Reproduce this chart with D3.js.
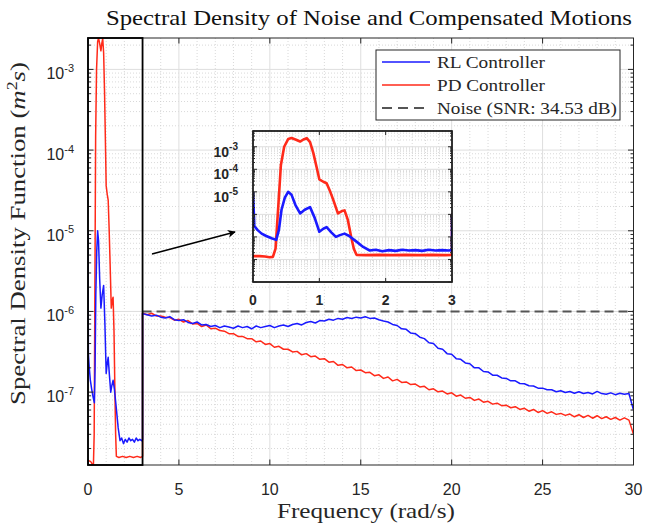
<!DOCTYPE html>
<html>
<head>
<meta charset="utf-8">
<script src="https://cdn.jsdelivr.net/npm/d3@7"></script>
<style>
body{margin:0;background:#fff;}
svg{display:block;}
</style>
</head>
<body>
<div id="chart"></div>
<script>
// ---- data ----
// low frequency part (0 - 3 rad/s), shown in the inset too
const freqLowRL = [0, 0.02, 0.07, 0.13, 0.20, 0.28, 0.35, 0.39, 0.43, 0.48, 0.53, 0.58, 0.64, 0.71, 0.78, 0.86, 0.93,
	1.00, 1.06, 1.11, 1.18, 1.25, 1.31, 1.38, 1.45, 1.56, 1.66, 1.76, 1.85, 1.95, 2.05, 2.15, 2.25, 2.35, 2.45, 2.55,
	2.65, 2.75, 2.85, 2.95, 3.00];
const rlLow = [1.0e-5, 3.0e-7, 2.0e-7, 1.4e-7, 1.1e-7, 8.7e-8, 7.4e-8, 2.0e-7, 1.6e-6, 5.5e-6, 1.0e-5, 7.5e-6, 2.6e-6,
	1.1e-6, 1.6e-6, 2.1e-6, 7.0e-7, 1.7e-7, 2.3e-7, 2.7e-7, 1.6e-7, 1.0e-7, 1.2e-7, 1.4e-7, 1.1e-7, 6.2e-8, 3.6e-8,
	2.5e-8, 2.7e-8, 2.3e-8, 2.6e-8, 2.4e-8, 2.7e-8, 2.5e-8, 2.6e-8, 2.4e-8, 2.7e-8, 2.5e-8, 2.6e-8, 2.5e-8, 2.6e-8];
const freqLowPD = [0, 0.10, 0.18, 0.25, 0.30, 0.34, 0.38, 0.42, 0.47, 0.53, 0.58, 0.64, 0.71, 0.76, 0.81, 0.86, 0.91,
	0.96, 1.00, 1.06, 1.11, 1.16, 1.21, 1.28, 1.34, 1.38, 1.43, 1.48, 1.52, 1.56, 1.70, 1.90, 2.10, 2.30, 2.50, 2.70,
	2.90, 3.00];
const pdLow = [1.4e-8, 1.4e-8, 1.35e-8, 1.25e-8, 1.3e-8, 3.0e-8, 2.0e-6, 1.5e-4, 1.0e-3, 2.2e-3, 2.45e-3, 2.1e-3,
	1.7e-3, 2.1e-3, 2.4e-3, 1.6e-3, 5.2e-4, 1.2e-4, 3.6e-5, 2.8e-5, 2.4e-5, 1.1e-5, 4.4e-6, 1.1e-6, 1.4e-6, 1.5e-6,
	5.7e-7, 1.0e-7, 3.0e-8, 1.6e-8, 1.55e-8, 1.6e-8, 1.55e-8, 1.6e-8, 1.55e-8, 1.6e-8, 1.55e-8, 1.6e-8];

// 3 - 30 rad/s
const freqHigh = [3, 3.25, 3.5, 3.75, 4, 4.25, 4.5, 4.75, 5, 5.25, 5.5, 5.75, 6, 6.25, 6.5, 6.75, 7, 7.25, 7.5, 7.75,
	8, 8.25, 8.5, 8.75, 9, 9.25, 9.5, 9.75, 10, 10.25, 10.5, 10.75, 11, 11.25, 11.5, 11.75, 12, 12.25, 12.5, 12.75,
	13, 13.25, 13.5, 13.75, 14, 14.25, 14.5, 14.75, 15, 15.25, 15.5, 15.75, 16, 16.25, 16.5, 16.75, 17, 17.25, 17.5,
	17.75, 18, 18.25, 18.5, 18.75, 19, 19.25, 19.5, 19.75, 20, 20.25, 20.5, 20.75, 21, 21.25, 21.5, 21.75, 22, 22.25,
	22.5, 22.75, 23, 23.25, 23.5, 23.75, 24, 24.25, 24.5, 24.75, 25, 25.25, 25.5, 25.75, 26, 26.25, 26.5, 26.75, 27,
	27.25, 27.5, 27.75, 28, 28.25, 28.5, 28.75, 29, 29.25, 29.5, 29.75, 30];
const rlHigh = [9.4e-7, 9.1e-7, 8.8e-7, 9.0e-7, 8.5e-7, 8.3e-7, 8.6e-7, 7.9e-7, 7.7e-7, 7.9e-7,
	7.3e-7, 7.1e-7, 7.4e-7, 6.8e-7, 6.9e-7, 6.5e-7, 6.7e-7, 6.3e-7, 6.6e-7, 6.4e-7,
	6.2e-7, 6.6e-7, 6.3e-7, 6.5e-7, 6.1e-7, 6.6e-7, 6.3e-7, 6.5e-7, 6.7e-7, 6.3e-7,
	6.6e-7, 6.8e-7, 6.5e-7, 6.9e-7, 7.1e-7, 6.8e-7, 7.3e-7, 7.5e-7, 7.2e-7, 7.7e-7,
	7.6e-7, 8.0e-7, 7.8e-7, 8.2e-7, 8.0e-7, 8.4e-7, 8.2e-7, 8.5e-7, 8.3e-7, 8.6e-7,
	8.2e-7, 8.3e-7, 7.9e-7, 7.6e-7, 7.4e-7, 6.9e-7, 6.7e-7, 6.1e-7, 6.0e-7, 5.4e-7,
	5.3e-7, 4.8e-7, 4.6e-7, 4.1e-7, 4.0e-7, 3.5e-7, 3.4e-7, 3.0e-7, 2.95e-7, 2.6e-7,
	2.55e-7, 2.3e-7, 2.25e-7, 2.0e-7, 2.0e-7, 1.8e-7, 1.78e-7, 1.62e-7, 1.62e-7, 1.5e-7,
	1.48e-7, 1.38e-7, 1.38e-7, 1.28e-7, 1.27e-7, 1.2e-7, 1.19e-7, 1.12e-7, 1.12e-7, 1.07e-7,
	1.07e-7, 1.01e-7, 1.04e-7, 9.9e-8, 1.02e-7, 9.7e-8, 1.01e-7, 9.6e-8, 9.9e-8, 9.5e-8,
	1.02e-7, 9.6e-8, 9.4e-8, 9.8e-8, 9.3e-8, 9.7e-8, 9.4e-8, 9.6e-8, 6.0e-8];
const pdHigh = [9.6e-7, 9.1e-7, 9.5e-7, 8.8e-7, 8.8e-7, 8.5e-7, 8.4e-7, 7.8e-7, 8.0e-7, 7.4e-7,
	7.7e-7, 7.0e-7, 7.1e-7, 6.5e-7, 6.8e-7, 6.1e-7, 6.2e-7, 5.8e-7, 5.7e-7, 5.3e-7,
	5.3e-7, 4.9e-7, 4.9e-7, 4.6e-7, 4.6e-7, 4.2e-7, 4.3e-7, 3.9e-7, 4.0e-7, 3.6e-7,
	3.7e-7, 3.4e-7, 3.4e-7, 3.15e-7, 3.2e-7, 2.9e-7, 3.0e-7, 2.75e-7, 2.8e-7, 2.55e-7,
	2.6e-7, 2.35e-7, 2.4e-7, 2.15e-7, 2.2e-7, 2.0e-7, 2.05e-7, 1.85e-7, 1.88e-7, 1.74e-7,
	1.76e-7, 1.6e-7, 1.64e-7, 1.48e-7, 1.54e-7, 1.38e-7, 1.44e-7, 1.32e-7, 1.34e-7, 1.24e-7,
	1.26e-7, 1.16e-7, 1.18e-7, 1.07e-7, 1.1e-7, 1.01e-7, 1.03e-7, 9.5e-8, 9.8e-8, 8.9e-8,
	9.2e-8, 8.4e-8, 8.6e-8, 7.9e-8, 8.2e-8, 7.5e-8, 7.7e-8, 7.1e-8, 7.3e-8, 6.8e-8,
	6.9e-8, 6.4e-8, 6.6e-8, 6.1e-8, 6.3e-8, 5.8e-8, 6.1e-8, 5.6e-8, 5.9e-8, 5.45e-8,
	5.7e-8, 5.3e-8, 5.45e-8, 5.15e-8, 5.35e-8, 4.95e-8, 5.25e-8, 4.85e-8, 5.15e-8, 4.75e-8,
	5.1e-8, 4.7e-8, 4.95e-8, 4.6e-8, 4.85e-8, 4.5e-8, 4.8e-8, 4.5e-8, 3.0e-8];

const noiseLevel = 1e-6;
const noiseSpan = [3, 30];
const zoomBand = [0, 3];
const xTicks = [0, 5, 10, 15, 20, 25, 30];
const yTickExps = [-7, -6, -5, -4, -3];
const insetXTicks = [0, 1, 2, 3];
const insetYTickExps = [-5, -4, -3];
const seriesNames = ["RL Controller", "PD Controller", "Noise (SNR: 34.53 dB)"];
const titleText = "Spectral Density of Noise and Compensated Motions";
const xLabelText = "Frequency (rad/s)";

// ---- layout ----
const W = 661, H = 526;
const plot = {left: 88, right: 633.5, top: 38, bottom: 465};
const inset = {left: 253, right: 452, top: 131, bottom: 282};
const blue = "#1a1aff", red = "#ff2a1a", axisCol = "#262626";
const serif = "'Liberation Serif','DejaVu Serif',serif";
const sans = "'Liberation Sans',Arial,sans-serif";

const rl = d3.zip(freqLowRL, rlLow).concat(d3.zip(freqHigh, rlHigh));
const pd = d3.zip(freqLowPD, pdLow).concat(d3.zip(freqHigh, pdHigh));

const x = d3.scaleLinear().domain([0, 30]).range([plot.left, plot.right]);
const y = d3.scaleLog()
	.domain(d3.extent(rl.concat(pd), d => d[1]))
	.range([plot.bottom, plot.top]);
const xi = d3.scaleLinear().domain([0, 3]).range([inset.left, inset.right]);
const yi = d3.scaleLog().domain([1e-9, 5e-3]).range([inset.bottom, inset.top]);

const svg = d3.select("#chart").append("svg")
	.attr("width", W)
	.attr("height", H);

const defs = svg.append("defs");
defs.append("clipPath").attr("id", "clipMain").append("rect")
	.attr("x", plot.left).attr("y", plot.top)
	.attr("width", plot.right - plot.left).attr("height", plot.bottom - plot.top);
defs.append("clipPath").attr("id", "clipInset").append("rect")
	.attr("x", inset.left).attr("y", inset.top)
	.attr("width", inset.right - inset.left).attr("height", inset.bottom - inset.top);
defs.append("marker")
	.attr("id", "arrow")
	.attr("viewBox", "0 0 10 10")
	.attr("refX", 9).attr("refY", 5)
	.attr("markerWidth", 10).attr("markerHeight", 8)
	.attr("markerUnits", "userSpaceOnUse")
	.attr("orient", "auto")
	.append("path").attr("d", "M0,0 L10,5 L0,10 L3,5 Z").attr("fill", "#000");

// positions of log ticks within a scale's domain
function logTicks(scale, subs){
	const [lo, hi] = scale.domain();
	const out = [];
	for (let e = Math.floor(Math.log10(lo)); e <= Math.ceil(Math.log10(hi)); e++){
		subs.forEach(k => {
			const v = k * Math.pow(10, e);
			if (v >= lo * 0.999 && v <= hi * 1.001) out.push(v);
		});
	}
	return out;
}

function drawGrid(g, xs, ys, box, xMajor, xMinor){
	const yMajor = logTicks(ys, [1]);
	const yMinor = logTicks(ys, [2, 3, 4, 5, 6, 7, 8, 9]);
	g.selectAll(".hmin").data(yMinor).enter().append("line")
		.attr("x1", box.left).attr("x2", box.right)
		.attr("y1", d => ys(d)).attr("y2", d => ys(d))
		.attr("stroke", "#c8c8c8").attr("stroke-width", 0.7).attr("stroke-dasharray", "1,2");
	g.selectAll(".vmin").data(xMinor).enter().append("line")
		.attr("y1", box.top).attr("y2", box.bottom)
		.attr("x1", d => xs(d)).attr("x2", d => xs(d))
		.attr("stroke", "#c8c8c8").attr("stroke-width", 0.7).attr("stroke-dasharray", "1,2");
	g.selectAll(".hmaj").data(yMajor).enter().append("line")
		.attr("x1", box.left).attr("x2", box.right)
		.attr("y1", d => ys(d)).attr("y2", d => ys(d))
		.attr("stroke", "#dedede").attr("stroke-width", 1);
	g.selectAll(".vmaj").data(xMajor).enter().append("line")
		.attr("y1", box.top).attr("y2", box.bottom)
		.attr("x1", d => xs(d)).attr("x2", d => xs(d))
		.attr("stroke", "#dedede").attr("stroke-width", 1);
}

function drawTicks(g, xs, ys, box, xMajor, yMajor, len, minLen){
	const t = g.append("g").attr("stroke", axisCol).attr("stroke-width", 1);
	xMajor.forEach(v => {
		t.append("line").attr("x1", xs(v)).attr("x2", xs(v)).attr("y1", box.bottom).attr("y2", box.bottom - len);
		t.append("line").attr("x1", xs(v)).attr("x2", xs(v)).attr("y1", box.top).attr("y2", box.top + len);
	});
	logTicks(ys, [1, 2, 3, 4, 5, 6, 7, 8, 9]).forEach(v => {
		const l = yMajor.includes(v) ? len : minLen;
		t.append("line").attr("x1", box.left).attr("x2", box.left + l).attr("y1", ys(v)).attr("y2", ys(v));
		t.append("line").attr("x1", box.right).attr("x2", box.right - l).attr("y1", ys(v)).attr("y2", ys(v));
	});
}

const line = (xs, ys) => d3.line().x(d => xs(d[0])).y(d => ys(d[1]));

// ---- main axes ----
const main = svg.append("g");
drawGrid(main.append("g"), x, y, plot, xTicks.slice(1, -1),
	d3.range(1, 30).filter(v => v % 5 !== 0));

const curves = main.append("g").attr("clip-path", "url(#clipMain)");
curves.append("path").datum(pd).attr("d", line(x, y))
	.attr("fill", "none").attr("stroke", red).attr("stroke-width", 1.5).attr("stroke-linejoin", "round");
curves.append("path").datum(rl).attr("d", line(x, y))
	.attr("fill", "none").attr("stroke", blue).attr("stroke-width", 1.5).attr("stroke-linejoin", "round");
curves.append("line")
	.attr("x1", x(noiseSpan[0])).attr("x2", x(noiseSpan[1]))
	.attr("y1", y(noiseLevel)).attr("y2", y(noiseLevel))
	.attr("stroke", "#555").attr("stroke-width", 2).attr("stroke-dasharray", "9,5");

main.append("rect")
	.attr("x", plot.left).attr("y", plot.top)
	.attr("width", plot.right - plot.left).attr("height", plot.bottom - plot.top)
	.attr("fill", "none").attr("stroke", axisCol).attr("stroke-width", 1);
drawTicks(main, x, y, plot, xTicks, yTickExps.map(e => Math.pow(10, e)), 5.5, 3);

// zoom band rectangle
main.append("rect")
	.attr("x", x(zoomBand[0])).attr("y", plot.top)
	.attr("width", x(zoomBand[1]) - x(zoomBand[0])).attr("height", plot.bottom - plot.top)
	.attr("fill", "none").attr("stroke", "#000").attr("stroke-width", 1.8);

// tick labels
main.append("g").selectAll("text").data(xTicks).enter().append("text")
	.attr("x", d => x(d)).attr("y", 495)
	.attr("text-anchor", "middle")
	.attr("font-family", sans).attr("font-size", 16).attr("fill", axisCol)
	.text(d => d);

const yl = main.append("g").selectAll("text").data(yTickExps).enter().append("text")
	.attr("x", 74).attr("y", d => y(Math.pow(10, d)) + 10)
	.attr("text-anchor", "end")
	.attr("font-family", sans).attr("font-size", 16).attr("fill", axisCol);
yl.append("tspan").text("10");
yl.append("tspan").attr("dy", -7.5).attr("font-size", 11).text(d => d);

// axis labels and title
svg.append("text")
	.attr("x", 369).attr("y", 25)
	.attr("text-anchor", "middle")
	.attr("font-family", serif).attr("font-size", 21).attr("fill", "#111")
	.attr("textLength", 526).attr("lengthAdjust", "spacingAndGlyphs")
	.text(titleText);

svg.append("text")
	.attr("x", 366).attr("y", 518)
	.attr("text-anchor", "middle")
	.attr("font-family", serif).attr("font-size", 21).attr("fill", axisCol)
	.attr("textLength", 178).attr("lengthAdjust", "spacingAndGlyphs")
	.text(xLabelText);

const ylab = svg.append("text")
	.attr("transform", "translate(25,233.5) rotate(-90)")
	.attr("text-anchor", "middle")
	.attr("font-family", serif).attr("font-size", 21).attr("fill", axisCol)
	.attr("textLength", 343).attr("lengthAdjust", "spacingAndGlyphs");
ylab.append("tspan").text("Spectral Density Function (");
ylab.append("tspan").attr("font-style", "italic").text("m");
ylab.append("tspan").attr("dy", -8).attr("font-size", 14).text("2");
ylab.append("tspan").attr("dy", 8).attr("font-style", "italic").text("s");
ylab.append("tspan").text(")");

// ---- legend ----
const leg = svg.append("g");
leg.append("rect")
	.attr("x", 376).attr("y", 50).attr("width", 244).attr("height", 70)
	.attr("fill", "#fff").attr("stroke", axisCol).attr("stroke-width", 1);
const legRows = [
	{name: seriesNames[0], color: blue, dash: null, w: 108},
	{name: seriesNames[1], color: red, dash: null, w: 108},
	{name: seriesNames[2], color: "#555", dash: "10,6", w: 180}
];
legRows.forEach((r, i) => {
	const cy = 62 + i * 23;
	leg.append("line")
		.attr("x1", 382).attr("x2", 430).attr("y1", cy).attr("y2", cy)
		.attr("stroke", r.color).attr("stroke-width", r.dash ? 2 : 1.5)
		.attr("stroke-dasharray", r.dash);
	leg.append("text")
		.attr("x", 437).attr("y", cy + 5.5)
		.attr("font-family", serif).attr("font-size", 16).attr("fill", axisCol)
		.attr("textLength", r.w).attr("lengthAdjust", "spacingAndGlyphs")
		.text(r.name);
});

// ---- inset ----
const ins = svg.append("g");
ins.append("rect")
	.attr("x", inset.left).attr("y", inset.top)
	.attr("width", inset.right - inset.left).attr("height", inset.bottom - inset.top)
	.attr("fill", "#fff");
drawGrid(ins.append("g"), xi, yi, inset, [1, 2],
	d3.range(1, 15).map(v => v * 0.2).filter(v => Math.abs(v - 1) > 0.01 && Math.abs(v - 2) > 0.01));
const ic = ins.append("g").attr("clip-path", "url(#clipInset)");
ic.append("path").datum(pd).attr("d", line(xi, yi))
	.attr("fill", "none").attr("stroke", red).attr("stroke-width", 2.6).attr("stroke-linejoin", "round");
ic.append("path").datum(rl).attr("d", line(xi, yi))
	.attr("fill", "none").attr("stroke", blue).attr("stroke-width", 2.6).attr("stroke-linejoin", "round");
ins.append("rect")
	.attr("x", inset.left).attr("y", inset.top)
	.attr("width", inset.right - inset.left).attr("height", inset.bottom - inset.top)
	.attr("fill", "none").attr("stroke", "#000").attr("stroke-width", 1.6);
drawTicks(ins, xi, yi, inset, insetXTicks, logTicks(yi, [1]), 4, 2);

ins.append("g").selectAll("text").data(insetXTicks).enter().append("text")
	.attr("x", d => xi(d)).attr("y", 305)
	.attr("text-anchor", "middle")
	.attr("font-family", sans).attr("font-size", 14).attr("font-weight", "bold").attr("fill", axisCol)
	.text(d => d);
const iyl = ins.append("g").selectAll("text").data(insetYTickExps).enter().append("text")
	.attr("x", 238).attr("y", d => yi(Math.pow(10, d)) + 10)
	.attr("text-anchor", "end")
	.attr("font-family", sans).attr("font-size", 14).attr("font-weight", "bold").attr("fill", axisCol);
iyl.append("tspan").text("10");
iyl.append("tspan").attr("dy", -7).attr("font-size", 10).text(d => d);

// arrow pointing to the inset
svg.append("line")
	.attr("x1", 152).attr("y1", 254).attr("x2", 235).attr("y2", 232)
	.attr("stroke", "#000").attr("stroke-width", 1.5)
	.attr("marker-end", "url(#arrow)");
</script>
</body>
</html>
